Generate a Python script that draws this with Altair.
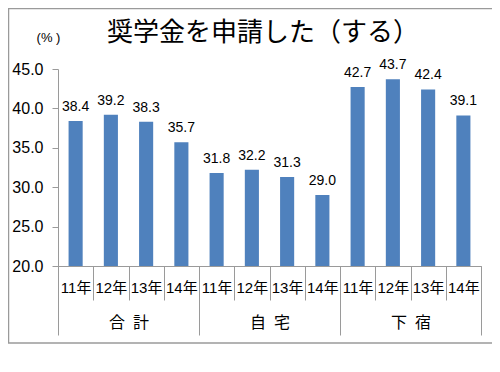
import altair as alt
import pandas as pd

TITLE = "奨学金を申請した（する）"
groups = ["合\u2002計", "自\u2002宅", "下\u2002宿"]
years = ["11年", "12年", "13年", "14年"]
values_total = [38.4, 39.2, 38.3, 35.7]
values_home = [31.8, 32.2, 31.3, 29.0]
values_away = [42.7, 43.7, 42.4, 39.1]
y_ticks = [20, 25, 30, 35, 40, 45]

rows = []
for g, vals in zip(groups, [values_total, values_home, values_away]):
    for yr, v in zip(years, vals):
        rows.append({"group": g, "year": yr, "key": g + "|" + yr, "value": v})
df = pd.DataFrame(rows)
keys = list(df["key"])

NUM_FONT = "Liberation Sans, Arial, sans-serif"
JP_FONT = "Liberation Sans, Noto Sans CJK JP, sans-serif"
GRAY = "#9a9a9a"

x_bar = alt.X(
    "key:N", sort=keys,
    scale=alt.Scale(paddingInner=0, paddingOuter=0),
    axis=alt.Axis(title=None, labelExpr="split(datum.label, '|')[1]", labelAngle=0,
                  tickBand="extent", tickSize=34, tickColor=GRAY, domainColor=GRAY,
                  labelPadding=-20, labelFont=JP_FONT, labelFontSize=15,
                  labelColor="black", labelOverlap=False),
)
y_enc = alt.Y(
    "value:Q",
    scale=alt.Scale(domain=[20, 45], zero=False, nice=False),
    axis=alt.Axis(values=y_ticks, format=".1f", grid=False, title="(% )", titleAngle=0,
                  titleX=-10, titleY=-32, titleAlign="center", titleBaseline="middle",
                  titleFont=JP_FONT, titleFontSize=13, titleFontWeight="normal",
                  titleColor="black", labelFont=NUM_FONT, labelFontSize=16,
                  labelPadding=9, tickSize=6, tickColor=GRAY, domainColor=GRAY,
                  labelColor="black", labelOverlap=False, labelBound=False,
                  labelFlush=False),
)

base = alt.Chart(df)
bars = base.mark_bar(width=alt.RelativeBandSize(0.4), color="#4F81BD").encode(
    x=x_bar, y=y_enc, y2=alt.datum(20)
)
labels = base.mark_text(dy=-14, baseline="middle", fontSize=14, font=NUM_FONT, color="black").encode(
    x=x_bar, y=y_enc, text=alt.Text("value:Q", format=".1f")
)
main = alt.layer(bars, labels)

group_layer = base.mark_text(opacity=0).encode(
    x=alt.X("group:N", sort=groups,
            scale=alt.Scale(paddingInner=0, paddingOuter=0),
            axis=alt.Axis(title=None, orient="bottom", labelAngle=0, tickBand="extent",
                          tickSize=69, tickColor=GRAY, domainColor=GRAY, labelPadding=-21,
                          labelFont="Noto Sans CJK JP", labelFontSize=16,
                          labelColor="black", labelOverlap=False)),
    text=alt.value(""),
)

one = alt.Data(values=[{}])
frame = alt.Chart(one).mark_rect(
    fillOpacity=0, stroke=GRAY, strokeWidth=1.5
).encode(
    x=alt.value(-49.5), x2=alt.value(460), y=alt.value(-60.5), y2=alt.value(274)
)
title = alt.Chart(one).mark_text(
    font="Noto Sans CJK JP", fontSize=26, color="black", align="center", baseline="middle"
).encode(
    x=alt.value(205), y=alt.value(-36), text=alt.value(TITLE)
)

chart = alt.layer(frame, title, main, group_layer).resolve_scale(x="independent").properties(
    width=423, height=197, autosize="none",
    padding={"left": 50, "top": 61, "right": 11, "bottom": 82},
).configure_view(stroke=None)

chart.save("out.html", embed_options={"renderer": "svg", "actions": False})
